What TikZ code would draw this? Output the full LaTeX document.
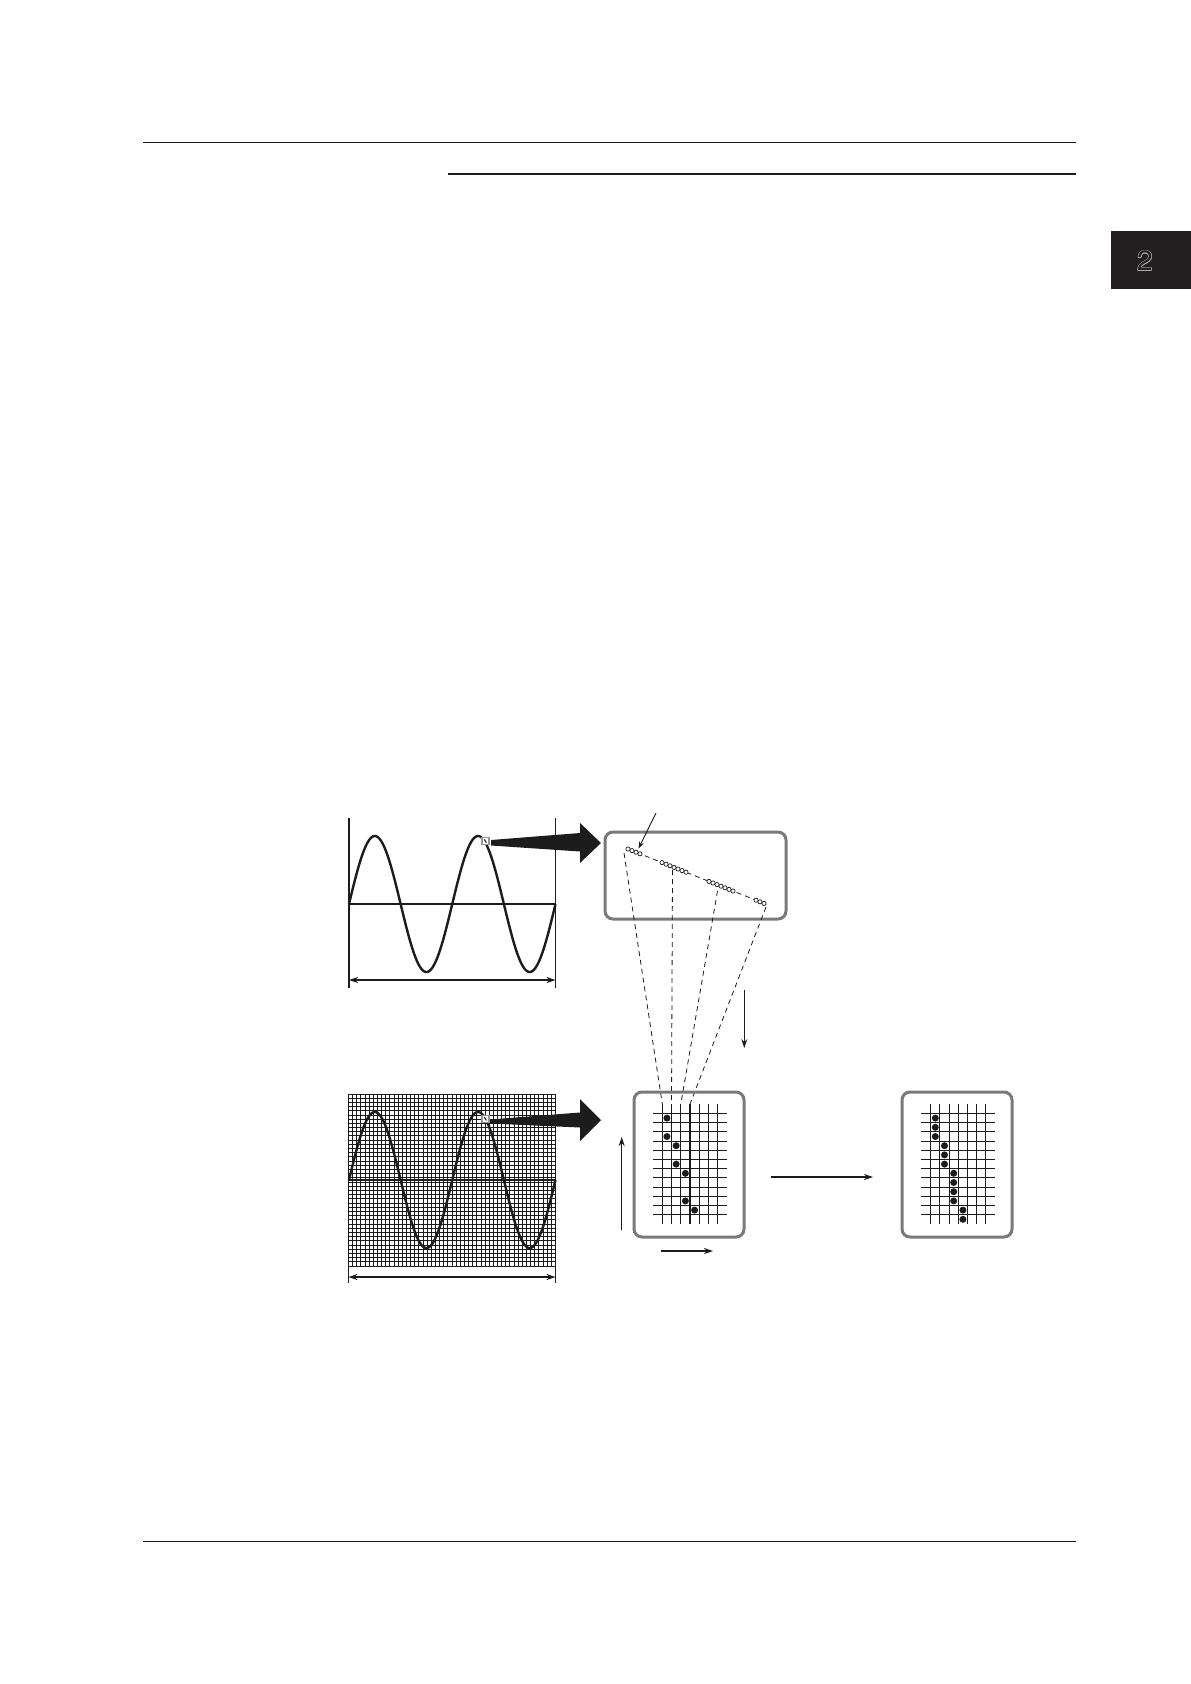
\documentclass[tikz,border=0pt]{standalone}
\usepackage{fontspec}
\setsansfont{TeX Gyre Heros}
\usetikzlibrary{arrows.meta}
\definecolor{boxgray}{RGB}{122,122,122}
\definecolor{tabdark}{RGB}{35,31,32}
\definecolor{ink}{RGB}{28,28,28}
\definecolor{tabline}{RGB}{170,170,170}
\begin{document}
\begin{tikzpicture}[x=1pt,y=-1pt,
  panel/.style={draw=boxgray, line width=3pt, rounded corners=8pt, inner sep=0pt},
  thinarrow/.style={line width=1.1pt, ink, -{Stealth[length=9pt,width=6pt]}},
  dimarrow/.style={line width=1.1pt, ink, {Stealth[length=9pt,width=6pt]}-{Stealth[length=9pt,width=6pt]}},
  wave/.style={line width=2.4pt, ink},
  fine/.style={line width=0.95pt, ink},
  cellgrid/.style={line width=1.1pt, ink},
  dot/.style={circle, fill=ink, inner sep=0pt, minimum size=7pt},
  sample/.style={circle, draw=ink, fill=white, line width=0.7pt, inner sep=0pt, minimum size=4.2pt},
  link/.style={dash pattern=on 5pt off 4pt, line width=0.8pt, ink},
  rule/.style={line width=1pt, ink},
  marker/.style={draw=boxgray!80, fill=white, line width=1.4pt, inner sep=0pt, minimum size=7pt},
  tabnum/.style={font=\sffamily\fontsize{28}{28}\selectfont, inner sep=0pt},
]
\fill[white] (0,0) rectangle (1191,1684);
\useasboundingbox (0,0) rectangle (1191,1684);

% page rules
\draw[rule] (143,142) -- (1076,142);
\draw[line width=2.5pt, ink] (448,174) -- (1076,174);
\draw[rule] (143,1541) -- (1076,1541);

% chapter tab
\fill[tabdark] (1111,231) rectangle (1191,289);
\foreach \dx/\dy in {-0.7/0,0.7/0,0/-0.7,0/0.7,-0.5/-0.5,0.5/0.5,-0.5/0.5,0.5/-0.5}
  \node[tabnum, text=tabline] at (1145+\dx,261+\dy) {2};
\node[tabnum, text=tabdark] (tab) at (1145,261) {2};

% ---------- upper waveform ----------
\draw[line width=1.2pt, ink] (349,818) -- (349,988);
\draw[line width=1.2pt, ink] (555.5,818) -- (555.5,988);
\draw[line width=2pt, ink] (349,904) -- (555.5,904);
\draw[wave] plot[domain=0:2, samples=241, smooth] ({349+103.25*\x},{904-68*sin(360*\x)});
\coordinate (dimAl) at (349,980);
\coordinate (dimAr) at (555.5,980);
\draw[dimarrow] (dimAl) -- (dimAr);
\node[marker] (mkA) at (485.3,841) {};
\draw[line width=1pt, ink] (484.2,839.3) -- (486.4,842.6);
\fill[ink] (491,840) -- (580,833) -- (580,823) -- (601,843) -- (580,863) -- (580,851.5) -- (491,845.5) -- cycle;

% zoomed samples box
\node[panel, minimum width=181pt, minimum height=87pt] (zoomA) at (695.5,875.5) {};
\coordinate (sA) at (628,849);
\coordinate (sE) at ({628+4*35.5},{849+1.6*35.5});
\draw[link] (sA) -- (sE);
\foreach \s/\cnt in {0/4, 8.5/7, 20.25/7, 32/3}
  \foreach \k in {1,...,\cnt}
    \node[sample] at ({628+4*(\s+\k-1)},{849+1.6*(\s+\k-1)}) {};
\coordinate (noteS) at (656,813);
\coordinate (noteE) at (638.5,848.5);
\draw[line width=0.9pt, ink, -{Stealth[length=7pt,width=5pt]}] (noteS) -- (noteE);

% dashed projections
\coordinate (p1) at (624,853);   \coordinate (q1) at (662.3,1104);
\coordinate (p2) at (672.5,870); \coordinate (q2) at (671.5,1104);
\coordinate (p3) at (717.5,891); \coordinate (q3) at (680.8,1104);
\coordinate (p4) at (766,907);   \coordinate (q4) at (690,1104);
\foreach \i in {1,...,4} \draw[link] (p\i) -- (q\i);

% middle down arrow
\coordinate (dnS) at (744.3,990);
\coordinate (dnE) at (744.3,1048);
\draw[thinarrow] (dnS) -- (dnE);

% ---------- lower gridded waveform ----------
\foreach \i in {0,...,50} \draw[fine] ({348.5+\i*4.14},1094) -- ({348.5+\i*4.14},1266);
\foreach \j in {0,...,41} \draw[fine] (348.5,{1094+\j*4.195}) -- (555.5,{1094+\j*4.195});
\draw[line width=2pt, ink] (348.5,1180) -- (555.5,1180);
\draw[wave] plot[domain=0:2, samples=241, smooth] ({349+103.25*\x},{1180-68*sin(360*\x)});
\draw[line width=1.2pt, ink] (348.5,1266) -- (348.5,1283);
\draw[line width=1.2pt, ink] (555.5,1266) -- (555.5,1283);
\coordinate (dimBl) at (348.5,1277);
\coordinate (dimBr) at (555.5,1277);
\draw[dimarrow] (dimBl) -- (dimBr);
\node[marker] (mkB) at (485.3,1118.8) {};
\draw[line width=1pt, ink] (484.2,1117) -- (486.4,1120.4);
\fill[ink] (490,1119.5) -- (580,1112.5) -- (580,1099) -- (601,1120) -- (580,1141) -- (580,1127.5) -- (490,1123.5) -- cycle;

% cell box 1
\node[panel, minimum width=110pt, minimum height=145pt] (cellA) at (689,1164.5) {};
\foreach \i in {0,...,6} \draw[cellgrid] ({662.3+\i*9.23},1104) -- ({662.3+\i*9.23},1224);
\foreach \j in {0,...,11} \draw[cellgrid] (653,{1113.5+\j*9.2}) -- (727,{1113.5+\j*9.2});
\foreach \c/\r in {1/1,1/3,2/4,2/6,3/7,3/10,4/11}
  \node[dot] at ({662.3+(\c-0.5)*9.23},{1113.5+(\r-0.5)*9.2}) {};

% cell box 2
\node[panel, minimum width=110pt, minimum height=145pt] (cellB) at (957,1164.5) {};
\foreach \i in {0,...,6} \draw[cellgrid] ({930.7+\i*9.2},1104) -- ({930.7+\i*9.2},1224);
\foreach \j in {0,...,11} \draw[cellgrid] (921,{1113.5+\j*9.2}) -- (995,{1113.5+\j*9.2});
\foreach \c/\r in {1/1,1/2,1/3,2/4,2/5,2/6,3/7,3/8,3/9,3/10,4/11,4/12}
  \node[dot] at ({930.7+(\c-0.5)*9.2},{1113.5+(\r-0.5)*9.2}) {};

% axis arrows and transition arrow
\coordinate (upS) at (621.7,1230);
\coordinate (upE) at (621.7,1137);
\draw[thinarrow] (upS) -- (upE);
\coordinate (rtS) at (661,1251);
\coordinate (rtE) at (713,1251);
\draw[thinarrow] (rtS) -- (rtE);
\coordinate (trS) at (771,1177);
\coordinate (trE) at (873,1177);
\draw[thinarrow] (trS) -- (trE);
\end{tikzpicture}
\end{document}
